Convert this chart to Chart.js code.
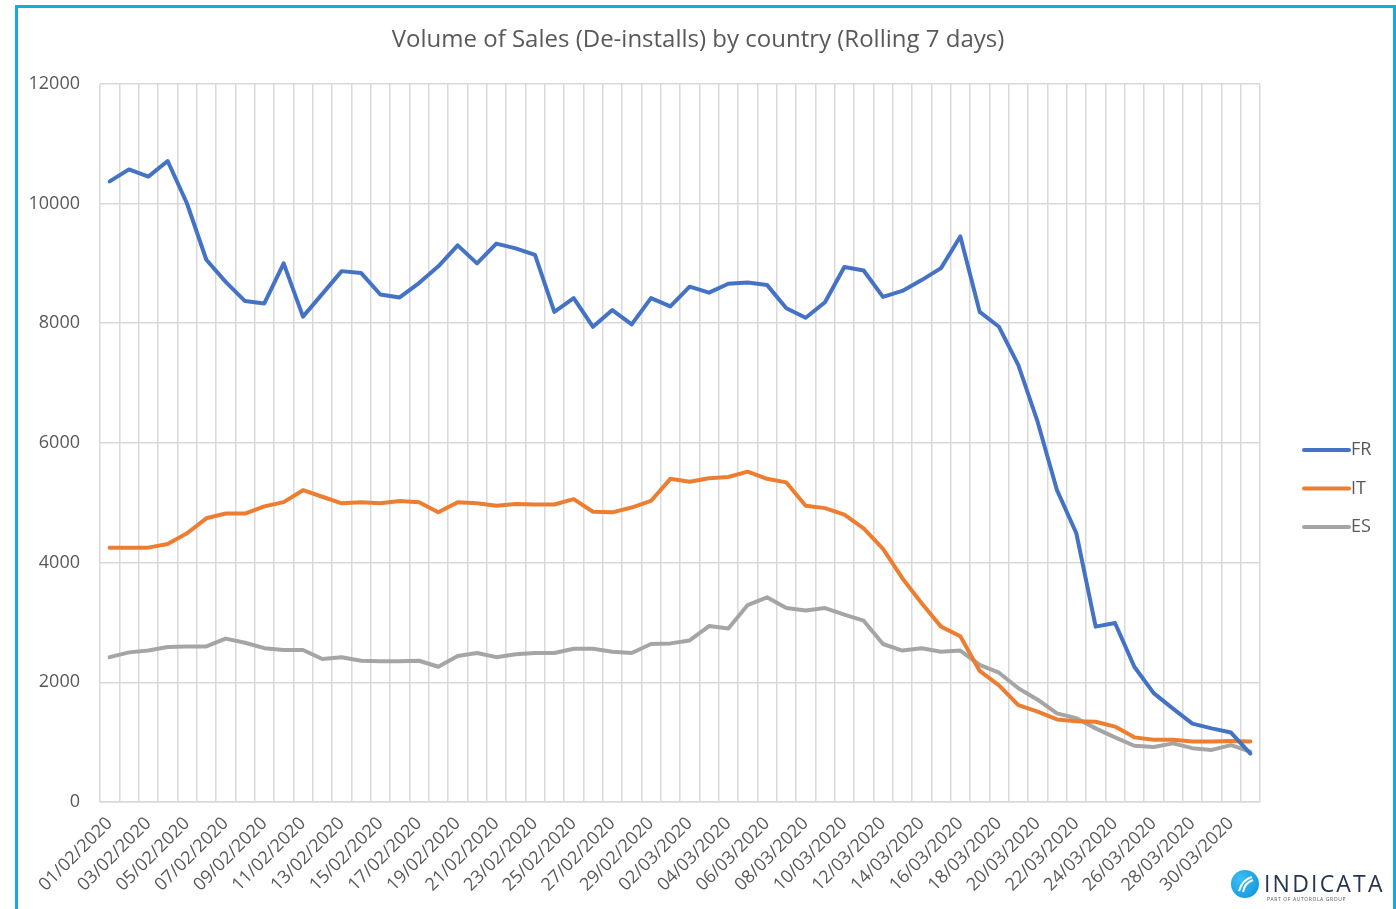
<!DOCTYPE html>
<html>
<head>
<meta charset="utf-8">
<script src="https://cdn.jsdelivr.net/npm/chart.js@4/dist/chart.umd.min.js"></script>
<style>
  html, body { margin: 0; padding: 0; background: #fff; }
  #wrap { position: absolute; left: 0; top: 0; width: 1396px; height: 909px; }
  #frame {
    position: absolute; left: 15px; top: 5px; width: 1381px; height: 1000px;
    box-sizing: border-box; border: 3px solid #14a8e6; pointer-events: none;
  }
  #logo { position: absolute; left: 1230px; top: 869px; width: 160px; height: 36px; }
  #logo .mark {
    position: absolute; left: 1px; top: 1px; width: 28px; height: 28px; border-radius: 50%;
    background: radial-gradient(circle at 35% 35%, #3cc0f5, #0c8fd6);
  }
  #logo .name {
    position: absolute; left: 34px; top: 0px; font-family: "Open Sans", sans-serif;
    font-size: 23px; letter-spacing: 2.2px; color: #24364f; line-height: 28px;
  }
  #logo .sub {
    position: absolute; left: 37px; top: 27px; font-family: "Open Sans", sans-serif;
    font-size: 5px; letter-spacing: 0.6px; color: #555; white-space: nowrap;
  }
</style>
</head>
<body>
<div id="wrap"><canvas id="chart"></canvas></div>
<div id="frame"></div>
<div id="logo">
  <div class="mark">
    <svg width="28" height="28" viewBox="0 0 28 28">
      <path d="M8 21 C10 14, 14 9, 21 7" stroke="#fff" stroke-width="2" fill="none"/>
      <path d="M12 22 C13 16, 16 12, 22 10" stroke="#fff" stroke-width="2" fill="none"/>
    </svg>
  </div>
  <div class="name">INDICATA</div>
  <div class="sub">PART OF AUTOROLA GROUP</div>
</div>
<script>
const dates = [
  "01/02/2020","02/02/2020","03/02/2020","04/02/2020","05/02/2020","06/02/2020","07/02/2020","08/02/2020","09/02/2020","10/02/2020",
  "11/02/2020","12/02/2020","13/02/2020","14/02/2020","15/02/2020","16/02/2020","17/02/2020","18/02/2020","19/02/2020","20/02/2020",
  "21/02/2020","22/02/2020","23/02/2020","24/02/2020","25/02/2020","26/02/2020","27/02/2020","28/02/2020","29/02/2020","01/03/2020",
  "02/03/2020","03/03/2020","04/03/2020","05/03/2020","06/03/2020","07/03/2020","08/03/2020","09/03/2020","10/03/2020","11/03/2020",
  "12/03/2020","13/03/2020","14/03/2020","15/03/2020","16/03/2020","17/03/2020","18/03/2020","19/03/2020","20/03/2020","21/03/2020",
  "22/03/2020","23/03/2020","24/03/2020","25/03/2020","26/03/2020","27/03/2020","28/03/2020","29/03/2020","30/03/2020","31/03/2020"
];

const frValues = [
  10370, 10570, 10450, 10710, 10000, 9060, 8690, 8370, 8330, 9000,
  8110, 8490, 8870, 8840, 8480, 8430, 8670, 8950, 9300, 9000,
  9330, 9250, 9140, 8190, 8420, 7940, 8220, 7980, 8420, 8280,
  8610, 8510, 8660, 8680, 8640, 8250, 8090, 8350, 8940, 8880,
  8440, 8540, 8720, 8920, 9450, 8190, 7940, 7300, 6350, 5210,
  4490, 2930, 2990, 2260, 1820, 1560, 1310, 1230, 1160, 810
];

const itValues = [
  4250, 4250, 4250, 4310, 4490, 4740, 4820, 4820, 4940, 5010,
  5210, 5100, 4990, 5010, 4990, 5030, 5010, 4840, 5010, 4990,
  4950, 4980, 4970, 4970, 5060, 4850, 4840, 4920, 5030, 5400,
  5350, 5410, 5430, 5520, 5400, 5340, 4950, 4910, 4800, 4570,
  4230, 3740, 3320, 2930, 2770, 2190, 1950, 1620, 1510, 1380,
  1350, 1340, 1260, 1080, 1040, 1040, 1010, 1010, 1020, 1010
];

const esValues = [
  2420, 2500, 2530, 2590, 2600, 2600, 2730, 2660, 2570, 2540,
  2540, 2390, 2420, 2360, 2350, 2350, 2360, 2260, 2440, 2490,
  2420, 2470, 2490, 2490, 2560, 2560, 2510, 2490, 2640, 2650,
  2700, 2940, 2900, 3290, 3420, 3240, 3200, 3240, 3130, 3030,
  2640, 2530, 2570, 2510, 2530, 2290, 2160, 1900, 1710, 1480,
  1400, 1230, 1080, 940, 920, 980, 900, 870, 950, 840
];

const yTicks = [0, 2000, 4000, 6000, 8000, 10000, 12000];

const textColor = "#595959";
const gridColor = "#d9d9d9";
const fontFamily = "'Open Sans', sans-serif";

// legend drawn on the right, Excel style: a short thick line then the name
const sideLegend = {
  id: "sideLegend",
  afterDraw(chart) {
    const ctx = chart.ctx;
    ctx.save();
    ctx.font = "18px " + fontFamily;
    ctx.textBaseline = "middle";
    chart.data.datasets.forEach((ds, i) => {
      const y = 450 + i * 38.5;
      ctx.strokeStyle = ds.borderColor;
      ctx.lineWidth = 4;
      ctx.lineCap = "round";
      ctx.beginPath();
      ctx.moveTo(1304, y);
      ctx.lineTo(1349, y);
      ctx.stroke();
      ctx.fillStyle = textColor;
      ctx.fillText(ds.label, 1351, y);
    });
    ctx.restore();
  }
};

function line(label, data, color) {
  return {
    label: label,
    data: data,
    borderColor: color,
    backgroundColor: color,
    borderWidth: 4,
    borderJoinStyle: "round",
    borderCapStyle: "round",
    pointRadius: 0,
    tension: 0,
    fill: false
  };
}

new Chart(document.getElementById("chart"), {
  type: "line",
  data: {
    labels: dates,
    datasets: [
      line("FR", frValues, "#4472c4"),
      line("IT", itValues, "#ed7d31"),
      line("ES", esValues, "#a5a5a5")
    ]
  },
  plugins: [sideLegend],
  options: {
    responsive: true,
    maintainAspectRatio: false,
    animation: false,
    layout: { padding: 0 },
    plugins: {
      legend: { display: false },
      tooltip: { enabled: false },
      title: {
        display: true,
        text: "Volume of Sales (De-installs) by country (Rolling 7 days)",
        color: textColor,
        font: { family: fontFamily, size: 24, weight: "normal" },
        padding: { top: 26, bottom: 29 }
      }
    },
    scales: {
      x: {
        offset: true,
        grid: { offset: true, color: gridColor, lineWidth: 1.5, drawTicks: false },
        border: { color: gridColor, width: 1.5 },
        afterFit(scale) { scale.height = 107; },
        ticks: {
          autoSkip: false,
          maxRotation: 45,
          minRotation: 45,
          padding: 11,
          color: textColor,
          font: { family: fontFamily, size: 18 },
          callback(value, index) { return index % 2 === 0 ? dates[index] : ""; }
        }
      },
      y: {
        min: 0,
        max: 12000,
        afterBuildTicks(scale) { scale.ticks = yTicks.map(v => ({ value: v })); },
        afterFit(scale) { scale.width = 100; },
        grid: { color: gridColor, lineWidth: 1.5, drawTicks: false },
        border: { display: false },
        ticks: {
          padding: 20,
          color: textColor,
          font: { family: fontFamily, size: 18 },
          callback(value) { return String(value); }
        }
      },
      // empty axis on the right, only to keep room for the legend
      side: {
        position: "right",
        display: true,
        afterFit(scale) { scale.width = 136; },
        grid: { display: false },
        border: { display: false },
        ticks: { display: false }
      }
    }
  }
});
</script>
</body>
</html>
